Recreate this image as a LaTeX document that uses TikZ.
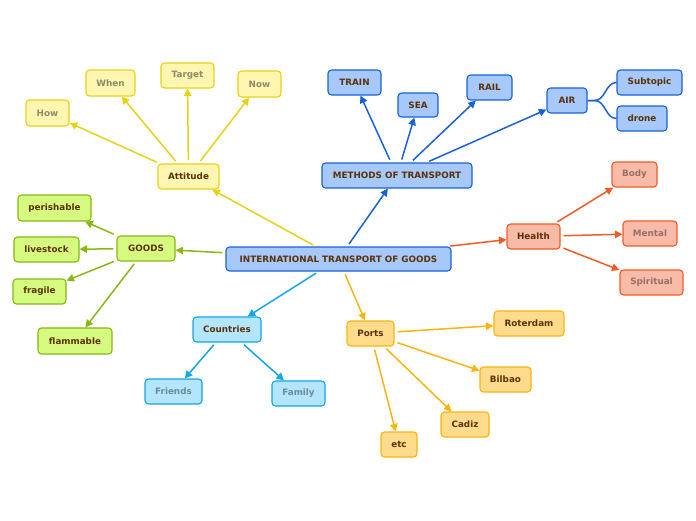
\documentclass[tikz,border=0pt]{standalone}
\usepackage{fontspec}
\setmainfont{DejaVu Sans}
\usetikzlibrary{arrows.meta}
\definecolor{txt}{HTML}{5A3206}
\definecolor{bfill}{HTML}{A6C8FB}\definecolor{bline}{HTML}{1662D8}
\definecolor{yfill}{HTML}{FFF6B2}\definecolor{yline}{HTML}{E8D215}\definecolor{ytxt}{HTML}{8E8A68}
\definecolor{gfill}{HTML}{D6FA80}\definecolor{gline}{HTML}{86B912}
\definecolor{cfill}{HTML}{B3E5FC}\definecolor{cline}{HTML}{10A6E8}\definecolor{ctxt}{HTML}{6C8A9A}
\definecolor{ofill}{HTML}{FFDB8C}\definecolor{oline}{HTML}{FAB410}
\definecolor{rfill}{HTML}{F8BBA7}\definecolor{rline}{HTML}{F45A26}\definecolor{rtxt}{HTML}{9A6E64}
\tikzset{
  box/.style={rounded corners=3.5pt,line width=1.1pt,inner sep=0pt,minimum height=25pt,
    font=\fontsize{8.8}{10}\selectfont\bfseries,text=txt,align=center},
  bnode/.style={box,fill=bfill,draw=bline},
  ynode/.style={box,fill=yfill,draw=yline},
  gnode/.style={box,fill=gfill,draw=gline},
  cnode/.style={box,fill=cfill,draw=cline},
  onode/.style={box,fill=ofill,draw=oline},
  rnode/.style={box,fill=rfill,draw=rline},
  conn/.style={line width=1.5pt,shorten <=3pt,-{Triangle[length=7.5pt,width=7.5pt]}},
}
\begin{document}
\begin{tikzpicture}[x=1pt,y=-1pt]
\useasboundingbox (0,0) rectangle (696,520);
% central
\node[bnode,minimum width=225pt,minimum height=24pt] (c) at (338.5,259) {INTERNATIONAL TRANSPORT OF GOODS};
% methods
\node[bnode,minimum width=150pt] (m) at (397,175.5) {METHODS OF TRANSPORT};
\node[bnode,minimum width=53pt] (train) at (354.5,82.5) {TRAIN};
\node[bnode,minimum width=40pt,minimum height=24pt] (sea) at (418,105) {SEA};
\node[bnode,minimum width=45pt] (rail) at (489.5,87.5) {RAIL};
\node[bnode,minimum width=40pt] (air) at (567,100.5) {AIR};
\node[bnode,minimum width=65pt] (sub) at (649.5,82.5) {Subtopic};
\node[bnode,minimum width=50pt] (drone) at (642,118.5) {drone};
% attitude
\node[ynode,minimum width=61pt] (att) at (188.5,176.5) {Attitude};
\node[ynode,minimum width=43pt,minimum height=26pt,text=ytxt] (how) at (47.5,113) {How};
\node[ynode,minimum width=49pt,minimum height=26pt,text=ytxt] (when) at (110.5,83) {When};
\node[ynode,minimum width=53pt,text=ytxt] (target) at (187.5,75.5) {Target};
\node[ynode,minimum width=43pt,minimum height=26pt,text=ytxt] (now) at (259.5,84) {Now};
% goods
\node[gnode,minimum width=58pt] (goods) at (146,248.5) {GOODS};
\node[gnode,minimum width=73pt,minimum height=26pt] (per) at (54.5,208) {perishable};
\node[gnode,minimum width=65pt] (live) at (46.5,249.5) {livestock};
\node[gnode,minimum width=53pt] (frag) at (39.5,291.5) {fragile};
\node[gnode,minimum width=74pt,minimum height=26pt] (flam) at (75,341) {flammable};
% countries
\node[cnode,minimum width=68pt] (cou) at (227,329.5) {Countries};
\node[cnode,minimum width=57pt,text=ctxt] (fri) at (173.5,391.5) {Friends};
\node[cnode,minimum width=53pt,text=ctxt] (fam) at (298.5,393.5) {Family};
% ports
\node[onode,minimum width=47pt] (ports) at (370.5,333.5) {Ports};
\node[onode,minimum width=70pt] (rot) at (529,323.5) {Roterdam};
\node[onode,minimum width=51pt] (bil) at (505.5,379.5) {Bilbao};
\node[onode,minimum width=48pt] (cad) at (465,424.5) {Cadiz};
\node[onode,minimum width=36pt] (etc) at (399,444.5) {etc};
% health
\node[rnode,minimum width=53pt] (hea) at (533.5,236.5) {Health};
\node[rnode,minimum width=45pt,text=rtxt] (body) at (634.5,174.5) {Body};
\node[rnode,minimum width=54pt,text=rtxt] (men) at (650,233.5) {Mental};
\node[rnode,minimum width=63pt,text=rtxt] (spi) at (651.5,282.5) {Spiritual};
% connectors
\draw[conn,bline] (c) -- (m);
\draw[conn,yline] (c) -- (att);
\draw[conn,gline] (c) -- (goods);
\draw[conn,cline] (c) -- (cou);
\draw[conn,oline] (c) -- (ports);
\draw[conn,rline] (c) -- (hea);
\foreach \t in {train,sea,rail,air} \draw[conn,bline] (m) -- (\t);
\foreach \t in {how,when,target,now} \draw[conn,yline] (att) -- (\t);
\foreach \t in {per,live,frag,flam} \draw[conn,gline] (goods) -- (\t);
\foreach \t in {fri,fam} \draw[conn,cline] (cou) -- (\t);
\foreach \t in {rot,bil,cad,etc} \draw[conn,oline] (ports) -- (\t);
\foreach \t in {body,men,spi} \draw[conn,rline] (hea) -- (\t);
\coordinate (airo) at ([xshift=7pt]air.east);
\draw[bline,line width=1.5pt] (air.east) -- (airo) to[out=0,in=180] (sub.west);
\draw[bline,line width=1.5pt] (air.east) -- (airo) to[out=0,in=180] (drone.west);
\end{tikzpicture}
\end{document}
